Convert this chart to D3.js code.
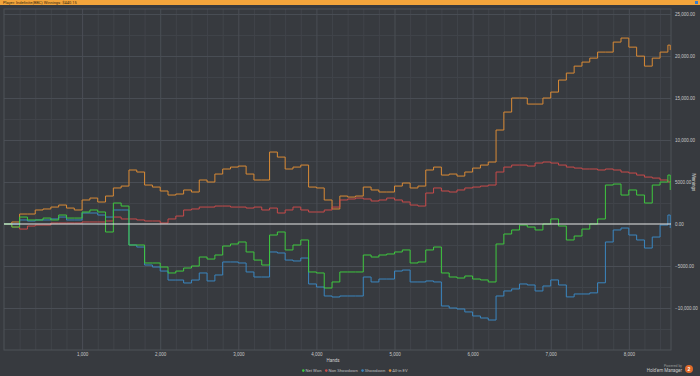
<!DOCTYPE html>
<html>
<head>
<meta charset="utf-8">
<script src="https://cdn.jsdelivr.net/npm/d3@7"></script>
<style>
  html, body { margin: 0; padding: 0; background: #373a3f; }
  svg { display: block; }
</style>
</head>
<body>
<div id="chart"></div>
<script>
// hands played (x axis)
const hands = [
  0, 100, 200, 300, 400, 500, 600, 700, 800, 900,
  1000, 1100, 1200, 1300, 1400, 1500, 1600, 1700, 1800, 1900,
  2000, 2100, 2200, 2300, 2400, 2500, 2600, 2700, 2800, 2900,
  3000, 3100, 3200, 3300, 3400, 3500, 3600, 3700, 3800, 3900,
  4000, 4100, 4200, 4300, 4400, 4500, 4600, 4700, 4800, 4900,
  5000, 5100, 5200, 5300, 5400, 5500, 5600, 5700, 5800, 5900,
  6000, 6100, 6200, 6300, 6400, 6500, 6600, 6700, 6800, 6900,
  7000, 7100, 7200, 7300, 7400, 7500, 7600, 7700, 7800, 7900,
  8000, 8100, 8200, 8300, 8400, 8500, 8530
];

const allInEV = [
  0, 240, 1190, 1190, 1670, 1790, 2020, 2260, 1900, 1670,
  2860, 3090, 2620, 3330, 4290, 4520, 6430, 6190, 4640, 4400,
  3930, 3450, 3570, 4050, 3810, 5240, 5000, 5950, 6550, 6780,
  6900, 5950, 5240, 5240, 8570, 7970, 6550, 6780, 7020, 4400,
  4290, 2860, 1790, 3330, 3210, 3330, 4400, 4050, 3810, 3810,
  4520, 4880, 4290, 4520, 6430, 6780, 5830, 5950, 5710, 6190,
  6660, 7020, 7380, 11190, 13330, 15000, 15000, 14280, 14280, 15000,
  15710, 17140, 17970, 18800, 19280, 19750, 20470, 20470, 21660, 22140,
  21060, 19990, 18800, 19750, 20470, 21300, 20710
];

const nonShowdown = [
  0, -360, -600, -240, -120, -120, 120, 120, 120, 120,
  240, 240, 240, 360, 830, 600, 600, 480, 360, 360,
  120, 600, 950, 1670, 1790, 2020, 2020, 2140, 2140, 2020,
  2020, 1900, 2020, 1670, 1900, 1310, 1670, 2020, 1670, 1430,
  1430, 1670, 2020, 2860, 2980, 3090, 2980, 2740, 2860, 3090,
  2860, 2620, 2260, 2140, 3690, 4290, 3930, 3810, 4050, 4290,
  4400, 4520, 4640, 6190, 6780, 7020, 7020, 6900, 7260, 7380,
  7260, 7020, 6780, 6660, 6550, 6550, 6430, 6550, 6430, 6190,
  6070, 5830, 5590, 5470, 5240, 5000, 5120
];

const showdown = [
  0, 0, 480, 360, 480, 480, 600, 830, 480, 480,
  1310, 1310, 1070, 830, 1670, 1670, -2500, -2740, -4880, -5120,
  -5600, -6670, -6670, -7020, -6670, -5830, -6780, -6070, -4520, -4520,
  -4640, -5710, -6310, -6310, -3330, -3450, -4290, -4400, -4050, -7140,
  -7500, -8570, -8690, -8570, -8570, -8570, -6310, -6900, -6550, -6550,
  -5600, -5480, -6900, -6900, -6780, -6900, -9760, -10000, -10120, -10470,
  -10950, -11190, -11430, -8570, -7970, -7730, -7140, -7260, -7970, -7380,
  -6660, -7260, -8680, -8330, -8330, -8200, -7000, -2140, -710, -480,
  -1310, -1900, -2860, -1550, -120, 1070, -480
];

const netWon = [
  0, -360, 830, 480, 480, 710, 480, 1070, 710, 710,
  1430, 1670, 1430, -950, 2500, 2140, -2500, -2500, -4640, -4640,
  -5120, -5830, -5600, -5240, -5000, -3930, -4170, -3690, -2620, -2380,
  -2140, -3330, -4290, -4880, -1310, -950, -3090, -2500, -1900, -5710,
  -5830, -7620, -6900, -5710, -5710, -5710, -3690, -3930, -3690, -3570,
  -3330, -3090, -4640, -4520, -3090, -2740, -5830, -6310, -6430, -6190,
  -6550, -6660, -6900, -2380, -1190, -710, -120, -360, -710, 0,
  600, -240, -1900, -1430, -600, 0, 600, 4640, 4760, 3450,
  4050, 3450, 2500, 4640, 5000, 5830, 4050
];

const seriesNames = ["Net Won", "Non Showdown", "Showdown", "All-in EV"];
const seriesColors = ["#3ec83e", "#c84a4a", "#3a86c0", "#d98a35"];
const seriesValues = [netWon, nonShowdown, showdown, allInEV];

const yTicks = [-10000, -5000, 0, 5000, 10000, 15000, 20000, 25000];
const xTicks = [1000, 2000, 3000, 4000, 5000, 6000, 7000, 8000];

const fullWidth = 700, fullHeight = 376;
const plot = { left: 4, right: 671, top: 9, bottom: 350 };

const svg = d3.select("#chart").append("svg")
  .attr("width", fullWidth)
  .attr("height", fullHeight)
  .style("font-family", "Roboto, 'DejaVu Sans', sans-serif");

svg.append("rect")
  .attr("width", fullWidth).attr("height", fullHeight)
  .attr("fill", "#373a3f");

// === Header bar ===
svg.append("rect")
  .attr("width", fullWidth).attr("height", 5)
  .attr("fill", "#f3a53c");
svg.append("text")
  .attr("x", 3).attr("y", 4)
  .style("font-size", "4px")
  .style("fill", "#3a2a10")
  .text("Player: Indefinite(BBC) Winnings: $440.15");
svg.append("rect")
  .attr("x", 695).attr("y", 1).attr("width", 3).attr("height", 3)
  .attr("fill", "#3a7fd0");

const x = d3.scaleLinear().domain([0, 8540]).range([plot.left, plot.right]);
const y = d3.scaleLinear().domain([-15000, 25600]).range([plot.bottom, plot.top]);

const ph = plot.bottom - plot.top;
const pw = plot.right - plot.left;

// === Gridlines ===
const minorX = d3.range(200, 8540, 200).filter(v => v % 1000 !== 0);
const minorY = d3.range(-12500, 25600, 5000);

svg.append("g")
  .attr("transform", `translate(0,${plot.bottom})`)
  .call(d3.axisBottom(x).tickValues(minorX).tickSize(-ph).tickFormat(""))
  .call(g => g.select(".domain").remove())
  .selectAll("line").attr("stroke", "#40444a");

svg.append("g")
  .attr("transform", `translate(${plot.left},0)`)
  .call(d3.axisLeft(y).tickValues(minorY).tickSize(-pw).tickFormat(""))
  .call(g => g.select(".domain").remove())
  .selectAll("line").attr("stroke", "#40444a");

svg.append("g")
  .attr("transform", `translate(0,${plot.bottom})`)
  .call(d3.axisBottom(x).tickValues(xTicks).tickSize(-ph).tickFormat(""))
  .call(g => g.select(".domain").remove())
  .selectAll("line").attr("stroke", "#4a4e55");

svg.append("g")
  .attr("transform", `translate(${plot.left},0)`)
  .call(d3.axisLeft(y).tickValues(yTicks.filter(v => v !== 0)).tickSize(-pw).tickFormat(""))
  .call(g => g.select(".domain").remove())
  .selectAll("line").attr("stroke", "#4a4e55");

svg.append("rect")
  .attr("x", plot.left).attr("y", plot.top)
  .attr("width", pw).attr("height", ph)
  .attr("fill", "none").attr("stroke", "#4e5259").attr("stroke-width", 1);

// === Axes labels ===
const fmtY = v => v === 0 ? "0.00" : (Math.abs(v) < 10000 ? d3.format(".2f")(v) : d3.format(",.2f")(v));

svg.append("g")
  .attr("transform", `translate(${plot.right},0)`)
  .call(d3.axisRight(y).tickValues(yTicks).tickSize(0).tickPadding(4).tickFormat(fmtY))
  .call(g => g.select(".domain").remove())
  .selectAll("text")
  .style("font-size", "4.5px")
  .style("fill", "#c8c8c8");

svg.append("g")
  .attr("transform", `translate(0,${plot.bottom})`)
  .call(d3.axisBottom(x).tickValues(xTicks).tickSize(0).tickPadding(3).tickFormat(d3.format(",")))
  .call(g => g.select(".domain").remove())
  .selectAll("text")
  .style("font-size", "4.5px")
  .style("fill", "#c8c8c8");

svg.append("text")
  .attr("x", 333).attr("y", 362)
  .attr("text-anchor", "middle")
  .style("font-size", "4.5px")
  .style("fill", "#d0d0d0")
  .text("Hands");

svg.append("text")
  .attr("transform", `translate(692,182) rotate(90)`)
  .attr("text-anchor", "middle")
  .style("font-size", "4.5px")
  .style("fill", "#d0d0d0")
  .text("Winnings");

// === Lines ===
const line = vals => d3.line()
  .x((d, i) => x(hands[i]))
  .y(d => y(d))
  .curve(d3.curveStepAfter)(vals);

[3, 1, 2, 0].forEach(k => {
  svg.append("path")
    .attr("d", line(seriesValues[k]))
    .attr("fill", "none")
    .attr("stroke", seriesColors[k])
    .attr("stroke-width", 1);
});

svg.append("line")
  .attr("x1", plot.left).attr("x2", plot.right)
  .attr("y1", y(0)).attr("y2", y(0))
  .attr("stroke", "#e8e8e8")
  .attr("stroke-width", 1.2);

// === Legend ===
const legend = svg.append("g").attr("transform", "translate(302,372)");
let lx = 0;
seriesNames.forEach((name, i) => {
  const g = legend.append("g").attr("transform", `translate(${lx},0)`);
  g.append("circle").attr("cx", 1.3).attr("cy", -1.4).attr("r", 1.3).attr("fill", seriesColors[i]);
  const t = g.append("text").attr("x", 3.5).attr("y", 0)
    .style("font-size", "4.2px")
    .style("fill", "#bfbfbf")
    .text(name);
  lx += 3.5 + t.node().getComputedTextLength() + 3.5;
});

// === Powered by ===
svg.append("text")
  .attr("x", 682).attr("y", 367)
  .attr("text-anchor", "end")
  .style("font-size", "3.5px")
  .style("fill", "#9a9a9a")
  .text("Powered by");
svg.append("text")
  .attr("x", 682).attr("y", 372)
  .attr("text-anchor", "end")
  .style("font-size", "4.5px")
  .style("fill", "#c8c8c8")
  .text("Hold'em Manager");
svg.append("circle")
  .attr("cx", 689).attr("cy", 369).attr("r", 4)
  .attr("fill", "#e06a2a");
svg.append("text")
  .attr("x", 689).attr("y", 371)
  .attr("text-anchor", "middle")
  .style("font-size", "5px")
  .style("font-weight", "bold")
  .style("fill", "#fff")
  .text("2");
</script>
</body>
</html>
